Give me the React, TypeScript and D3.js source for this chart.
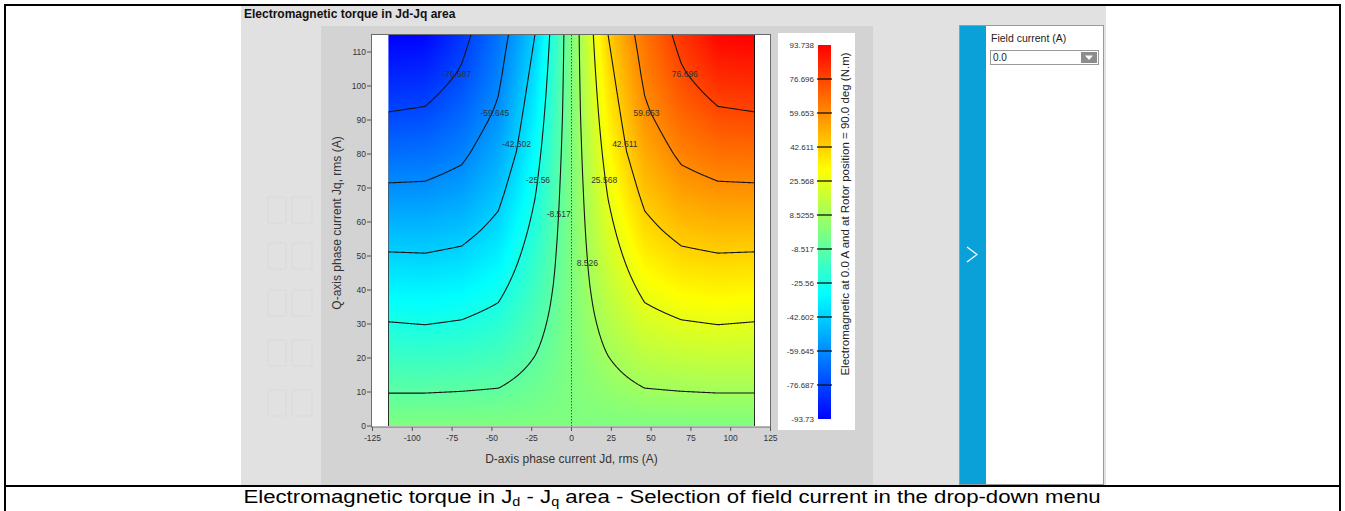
import React, { useMemo } from "react";
import * as d3 from "d3";

const W = 1345;
const H = 511;
const FONT = "'Liberation Sans', Arial, sans-serif";

// grid of the torque map, D-axis and Q-axis current (A rms)
const JD = [-115, -92, -69, -46, -34.5, -23, -11.5, -5.75, 0, 5.75, 11.5, 23, 34.5, 46, 69, 92, 115];
const JQ = [0, 5.75, 11.5, 23, 34.5, 46, 57.5, 69, 80.5, 92, 103.5, 115];

// electromagnetic torque (N.m), one row per JQ, one column per JD
const TORQUE = [
  [0, 0, 0, 0, 0, 0, 0, 0, 0, 0, 0, 0, 0, 0, 0, 0, 0],
  [-5.1, -5.1, -4.8, -4.4, -3.4, -2.4, -1.2, -0.55, 0, 0.55, 1.2, 2.4, 3.4, 4.4, 4.8, 5.1, 5.1],
  [-10.1, -10.1, -9.6, -8.8, -6.8, -4.8, -2.4, -1.1, 0, 1.1, 2.4, 4.8, 6.8, 8.8, 9.6, 10.1, 10.1],
  [-19.3, -19.9, -18.9, -16.6, -13.2, -9.5, -4.8, -2.2, 0, 2.2, 4.8, 9.5, 13.2, 16.6, 18.9, 19.9, 19.3],
  [-28.7, -29.5, -28.2, -24.4, -19.1, -14.0, -7.2, -3.3, 0, 3.3, 7.2, 14.0, 19.1, 24.4, 28.2, 29.5, 28.7],
  [-38.2, -38.7, -37.3, -31.9, -25.0, -18.0, -9.4, -4.4, 0, 4.4, 9.4, 18.0, 25.0, 31.9, 37.3, 38.7, 38.2],
  [-47.9, -48.0, -46.1, -39.3, -30.8, -22.2, -11.4, -5.5, 0, 5.5, 11.4, 22.2, 30.8, 39.3, 46.1, 48.0, 47.9],
  [-57.6, -57.3, -54.4, -45.9, -36.6, -26.4, -13.4, -6.5, 0, 6.5, 13.4, 26.4, 36.6, 45.9, 54.4, 57.3, 57.6],
  [-67.0, -66.3, -62.1, -51.9, -42.4, -30.5, -15.4, -7.6, 0, 7.6, 15.4, 30.5, 42.4, 51.9, 62.1, 66.3, 67.0],
  [-76.4, -75.2, -68.7, -57.8, -46.7, -34.5, -17.5, -8.7, 0, 8.7, 17.5, 34.5, 46.7, 57.8, 68.7, 75.2, 76.4],
  [-85.0, -83.8, -75.3, -62.0, -50.9, -38.5, -19.5, -9.5, 0, 9.5, 19.5, 38.5, 50.9, 62.0, 75.3, 83.8, 85.0],
  [-93.73, -92.2, -80.5, -65.3, -55.1, -42.6, -21.5, -10.2, 0, 10.2, 21.5, 42.6, 55.1, 65.3, 80.5, 92.2, 93.738],
];

const T_MIN = -93.73;
const T_MAX = 93.738;
const LEVELS = [-76.687, -59.645, -42.602, -25.56, -8.517, 8.526, 25.568, 42.611, 59.653, 76.696];
// colour bar tick labels, bottom to top
const BAR_LABELS = ["-93.73", "-76.687", "-59.645", "-42.602", "-25.56", "-8.517", "8.5255", "25.568", "42.611", "59.653", "76.696", "93.738"];
const X_TICKS = [-125, -100, -75, -50, -25, 0, 25, 50, 75, 100, 125];
const Y_TICKS = [0, 10, 20, 30, 40, 50, 60, 70, 80, 90, 100, 110];

// contour labels, anchored in (Jd, Jq)
const CONTOUR_LABELS = [
  { text: "-76.687", jd: -72, jq: 103.6 },
  { text: "76.696", jd: 71.2, jq: 103.6 },
  { text: "-59.645", jd: -48.2, jq: 92 },
  { text: "59.653", jd: 47.1, jq: 92 },
  { text: "-42.602", jd: -34.5, jq: 82.9 },
  { text: "42.611", jd: 33.5, jq: 82.9 },
  { text: "-25.56", jd: -21, jq: 72.4 },
  { text: "25.568", jd: 20.5, jq: 72.4 },
  { text: "-8.517", jd: -8, jq: 62.5 },
  { text: "8.526", jd: 10, jq: 47.8 },
];

const STEP = 0.5;
const NX = Math.round(230 / STEP) + 1;
const NY = Math.round(115 / STEP) + 1;

function sample(jd: number, jq: number) {
  const i = Math.min(JD.length - 2, Math.max(0, d3.bisectRight(JD, jd) - 1));
  const j = Math.min(JQ.length - 2, Math.max(0, d3.bisectRight(JQ, jq) - 1));
  const tx = (jd - JD[i]) / (JD[i + 1] - JD[i]);
  const ty = (jq - JQ[j]) / (JQ[j + 1] - JQ[j]);
  const a = TORQUE[j][i], b = TORQUE[j][i + 1];
  const c = TORQUE[j + 1][i], d = TORQUE[j + 1][i + 1];
  return a * (1 - tx) * (1 - ty) + b * tx * (1 - ty) + c * (1 - tx) * ty + d * tx * ty;
}

export default function App() {
  const xs = d3.scaleLinear().domain([-125, 125]).range([372.5, 770.5]);
  const ys = d3.scaleLinear().domain([0, 115]).range([426, 35]);
  const cs = d3.scaleLinear().domain([T_MIN, T_MAX]).range([419, 45]);
  const R = T_MAX - T_MIN;
  const color = d3
    .scaleLinear<string>()
    .domain([T_MIN, T_MIN + R / 3, T_MIN + (2 * R) / 3, T_MAX])
    .range(["#0000ff", "#00ffff", "#ffff00", "#ff0000"]);

  const { href, paths } = useMemo(() => {
    const grid: number[] = new Array(NX * NY);
    for (let j = 0; j < NY; j++) {
      const jq = 115 - j * STEP;
      for (let i = 0; i < NX; i++) grid[j * NX + i] = sample(-115 + i * STEP, jq);
    }
    // heat map raster
    const cv = document.createElement("canvas");
    cv.width = NX;
    cv.height = NY;
    const ctx = cv.getContext("2d")!;
    const img = ctx.createImageData(NX, NY);
    for (let k = 0; k < grid.length; k++) {
      const c = d3.rgb(color(grid[k]));
      img.data[4 * k] = c.r;
      img.data[4 * k + 1] = c.g;
      img.data[4 * k + 2] = c.b;
      img.data[4 * k + 3] = 255;
    }
    ctx.putImageData(img, 0, 0);

    const proj = d3.geoTransform({
      point(x: number, y: number) {
        this.stream.point(xs(-115 + (x - 0.5) * STEP), ys(115 - (y - 0.5) * STEP));
      },
    });
    const path = d3.geoPath(proj);
    const cont = d3.contours().size([NX, NY]).thresholds(LEVELS)(grid);
    return { href: cv.toDataURL(), paths: cont.map((c) => path(c as any) || "") };
  }, []);

  const x0 = xs(-115), x1 = xs(115), y0 = ys(0), y1 = ys(115);
  const ghost = [197, 243, 290, 340, 390];

  return (
    <div style={{ position: "absolute", left: 0, top: 0 }}>
      <svg width={W} height={H} style={{ display: "block", fontFamily: FONT }}>
        <defs>
          <clipPath id="data-clip">
            <rect x={x0} y={y1} width={x1 - x0} height={y0 - y1} />
          </clipPath>
          <linearGradient id="bar-grad" x1="0" x2="0" y1="1" y2="0">
            <stop offset="0%" stopColor="#0000ff" />
            <stop offset="33.333%" stopColor="#00ffff" />
            <stop offset="66.667%" stopColor="#ffff00" />
            <stop offset="100%" stopColor="#ff0000" />
          </linearGradient>
        </defs>
        <rect width={W} height={H} fill="#fff" />

        {/* screenshot background */}
        <rect x={241} y={6} width={865} height={479} fill="#e1e1e1" />
        <rect x={321} y={26} width={552} height={459} fill="#d3d3d3" />
        {ghost.map((gy, k) => (
          <g key={k} fill="none" stroke="#dcdcdc" strokeWidth={1.5}>
            <rect x={268} y={gy} width={18} height={26} rx={2} />
            <rect x={292} y={gy} width={20} height={26} rx={2} />
          </g>
        ))}
        <text x={244} y={18} fontSize={12} fontWeight="bold" fill="#111">
          Electromagnetic torque in Jd-Jq area
        </text>

        {/* plot area */}
        <rect x={371.5} y={34.5} width={399} height={392.5} fill="#fff" stroke="#6a6a6a" />
        <image href={href} x={x0} y={y1} width={x1 - x0} height={y0 - y1} preserveAspectRatio="none" />
        <g clipPath="url(#data-clip)" fill="none" stroke="#151515" strokeWidth={1.1}>
          {paths.map((d, k) => (
            <path key={k} d={d} />
          ))}
        </g>
        <line x1={xs(0)} x2={xs(0)} y1={y1} y2={y0} stroke="#555" strokeWidth={1} strokeDasharray="1.5,1.5" />
        {CONTOUR_LABELS.map((l) => (
          <text key={l.text} x={xs(l.jd)} y={ys(l.jq) + 3} fontSize={8.5} textAnchor="middle" fill="#333">
            {l.text}
          </text>
        ))}

        {/* axes */}
        <g fontSize={8.5} fill="#333">
          {X_TICKS.map((t) => (
            <g key={t}>
              <line x1={xs(t)} x2={xs(t)} y1={427} y2={431} stroke="#555" />
              <text x={xs(t)} y={441} textAnchor="middle">{t}</text>
            </g>
          ))}
          {Y_TICKS.map((t) => (
            <g key={t}>
              <line x1={367} x2={371} y1={ys(t)} y2={ys(t)} stroke="#555" />
              <text x={366} y={ys(t) + 3} textAnchor="end">{t}</text>
            </g>
          ))}
        </g>
        <text x={571.5} y={463} fontSize={12} textAnchor="middle" fill="#333">
          D-axis phase current Jd, rms (A)
        </text>
        <text transform="translate(341,223) rotate(-90)" fontSize={12} textAnchor="middle" fill="#333">
          Q-axis phase current Jq, rms (A)
        </text>

        {/* colour bar */}
        <rect x={778} y={33} width={77} height={397} fill="#fff" />
        <rect x={818} y={cs(T_MAX)} width={13} height={cs(T_MIN) - cs(T_MAX)} fill="url(#bar-grad)" />
        {BAR_LABELS.map((s, k) => {
          const v = T_MIN + (k * R) / 11;
          return (
            <g key={s}>
              {k > 0 && k < 11 && (
                <line x1={817} x2={832} y1={cs(v)} y2={cs(v)} stroke="#111" strokeWidth={1.3} />
              )}
              <text x={814} y={cs(v) + 3} fontSize={8} textAnchor="end" fill="#333">{s}</text>
            </g>
          );
        })}
        <text transform="translate(849,214) rotate(-90)" fontSize={11.5} textAnchor="middle" fill="#222">
          Electromagnetic at 0.0 A and at Rotor position = 90.0 deg (N.m)
        </text>

        {/* right side panel */}
        <rect x={959.5} y={25.5} width={144} height={459} fill="#fff" stroke="#9a9a9a" />
        <rect x={960} y={26} width={26} height={458} fill="#0aa0d8" />
        <path d="M967,247 L977,254.5 L967,262" fill="none" stroke="#fff" strokeWidth={1.2} />
        <text x={991} y={42} fontSize={10.5} fill="#222">Field current (A)</text>
        <rect x={990.5} y={50.5} width={108} height={14} fill="#fff" stroke="#9a9a9a" />
        <text x={993} y={61} fontSize={10} fill="#222">0.0</text>
        <rect x={1081} y={52} width={16} height={11} fill="#8c8c8c" />
        <path d="M1085,55.5 L1093,55.5 L1089,60 Z" fill="#fff" />

        {/* table borders and caption */}
        <g stroke="#000" strokeWidth={2}>
          <line x1={5} x2={1340} y1={5} y2={5} />
          <line x1={5} x2={5} y1={4} y2={H} />
          <line x1={1340} x2={1340} y1={4} y2={H} />
          <line x1={5} x2={1340} y1={486} y2={486} />
        </g>
        <text transform="translate(672,503) scale(1.2,1)" fontSize={18.5} textAnchor="middle" fill="#000">
          Electromagnetic torque in J
          <tspan fontSize={12} dy={3}>d</tspan>
          <tspan dy={-3}> - J</tspan>
          <tspan fontSize={12} dy={3}>q</tspan>
          <tspan dy={-3}> area - Selection of field current in the drop-down menu</tspan>
        </text>
      </svg>
    </div>
  );
}
